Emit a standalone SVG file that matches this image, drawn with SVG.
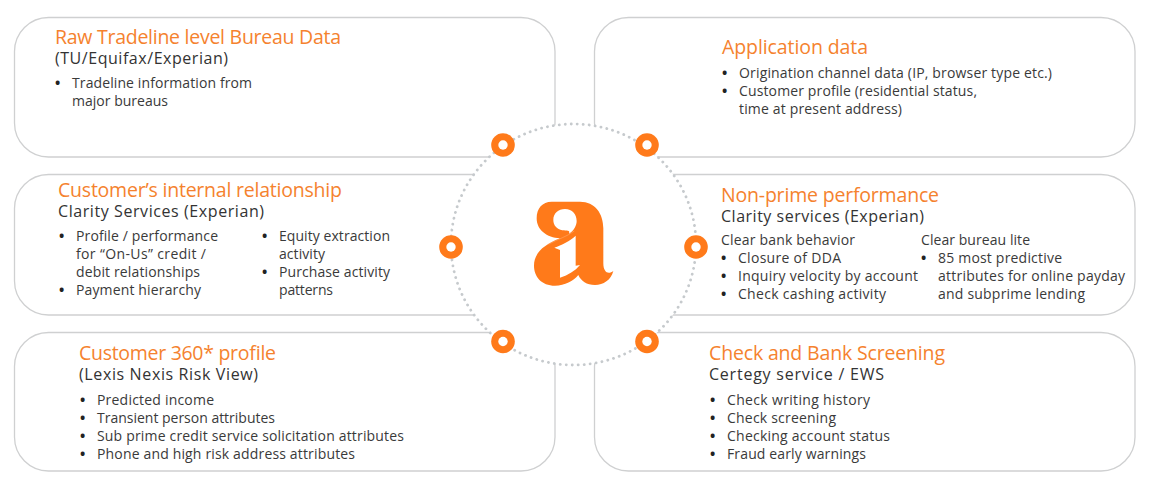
<svg xmlns="http://www.w3.org/2000/svg" width="1152" height="488" viewBox="0 0 1152 488">
<style>
text{font-family:"Open Sans","Noto Sans","Liberation Sans",sans-serif;fill:#3a3a3a;font-size:14px}
.box{fill:#fff;stroke:#cfd0d1;stroke-width:1.3}
text.t{fill:#f5822e;font-size:19.5px}
text.s{fill:#333;font-size:16px}
text.b{fill:#222;font-weight:700}
.dot{fill:#ff7a1a}
.hole{fill:#fff}
</style>
<rect width="1152" height="488" fill="#fff"/>
<g id="box-raw-tradeline">
<rect class="box" x="14.500" y="17.500" width="540.500" height="139.500" rx="34"/>
<text class="t" x="55" y="44" textLength="286">Raw Tradeline level Bureau Data</text>
<text class="s" x="55" y="64" textLength="173">(TU/Equifax/Experian)</text>
<text class="b" x="55" y="88">•</text>
<text x="72" y="88" textLength="180">Tradeline information from</text>
<text x="72" y="106" textLength="96">major bureaus</text>
</g>
<g id="box-application">
<rect class="box" x="594.500" y="17.500" width="540.500" height="139.500" rx="34"/>
<text class="t" x="722" y="54" textLength="146">Application data</text>
<text class="b" x="722" y="78">•</text>
<text x="739" y="78" textLength="313">Origination channel data (IP, browser type etc.)</text>
<text class="b" x="722" y="96">•</text>
<text x="739" y="96" textLength="238">Customer profile (residential status,</text>
<text x="739" y="114" textLength="163">time at present address)</text>
</g>
<g id="box-internal">
<rect class="box" x="14.500" y="174.500" width="520" height="140.500" rx="34"/>
<text class="t" x="58" y="197" textLength="284">Customer’s internal relationship</text>
<text class="s" x="58" y="216.500" textLength="206">Clarity Services (Experian)</text>
<text class="b" x="59" y="241">•</text>
<text x="76" y="241" textLength="142">Profile / performance</text>
<text x="76" y="259" textLength="130">for “On-Us” credit /</text>
<text x="76" y="277" textLength="124">debit relationships</text>
<text class="b" x="59" y="295">•</text>
<text x="76" y="295" textLength="125">Payment hierarchy</text>
<text class="b" x="262" y="241">•</text>
<text x="279" y="241" textLength="111">Equity extraction</text>
<text x="279" y="259" textLength="46">activity</text>
<text class="b" x="262" y="277">•</text>
<text x="279" y="277" textLength="111">Purchase activity</text>
<text x="279" y="295" textLength="54">patterns</text>
</g>
<g id="box-nonprime">
<rect class="box" x="615" y="174.500" width="520" height="140.500" rx="34"/>
<text class="t" x="721" y="202" textLength="218">Non-prime performance</text>
<text class="s" x="721" y="222" textLength="203">Clarity services (Experian)</text>
<text x="721" y="245" textLength="134">Clear bank behavior</text>
<text class="b" x="721" y="263">•</text>
<text x="738" y="263" textLength="103">Closure of DDA</text>
<text class="b" x="721" y="281">•</text>
<text x="738" y="281" textLength="180">Inquiry velocity by account</text>
<text class="b" x="721" y="299">•</text>
<text x="738" y="299" textLength="148">Check cashing activity</text>
<text x="921" y="245" textLength="109">Clear bureau lite</text>
<text class="b" x="921" y="263">•</text>
<text x="938" y="263" textLength="124">85 most predictive</text>
<text x="938" y="281" textLength="187">attributes for online payday</text>
<text x="938" y="299" textLength="147">and subprime lending</text>
</g>
<g id="box-customer-360">
<rect class="box" x="14.500" y="332.500" width="540.500" height="138.500" rx="34"/>
<text class="t" x="79" y="360" textLength="197">Customer 360* profile</text>
<text class="s" x="79" y="380" textLength="179">(Lexis Nexis Risk View)</text>
<text class="b" x="80" y="404.500">•</text>
<text x="97" y="404.500" textLength="117">Predicted income</text>
<text class="b" x="80" y="422.500">•</text>
<text x="97" y="422.500" textLength="178">Transient person attributes</text>
<text class="b" x="80" y="440.500">•</text>
<text x="97" y="440.500" textLength="307">Sub prime credit service solicitation attributes</text>
<text class="b" x="80" y="458.500">•</text>
<text x="97" y="458.500" textLength="258">Phone and high risk address attributes</text>
</g>
<g id="box-check-bank">
<rect class="box" x="594.500" y="332.500" width="540.500" height="138.500" rx="34"/>
<text class="t" x="709" y="360" textLength="236">Check and Bank Screening</text>
<text class="s" x="709" y="380" textLength="175">Certegy service / EWS</text>
<text class="b" x="710" y="404.500">•</text>
<text x="727" y="404.500" textLength="143">Check writing history</text>
<text class="b" x="710" y="422.500">•</text>
<text x="727" y="422.500" textLength="109">Check screening</text>
<text class="b" x="710" y="440.500">•</text>
<text x="727" y="440.500" textLength="163">Checking account status</text>
<text class="b" x="710" y="458.500">•</text>
<text x="727" y="458.500" textLength="139">Fraud early warnings</text>
</g>
<g id="connectors">
<ellipse cx="573.500" cy="244.500" rx="122.500" ry="120.500" fill="#fff" stroke="#c6cacd" stroke-width="2.800" stroke-linecap="round" stroke-dasharray="0.100 5.900"/>
</g>
<g id="hub-logo" transform="translate(525 195) scale(.3333)">
<path class="dot" d="M80 20H165C210 20 235 55 235 100V205C235 232 250 240 265 228C258 255 235 270 210 270C185 270 168 258 160 240C145 258 120 272 90 272C50 272 27 245 27 212C27 175 55 150 105 130C65 128 35 105 35 70C35 40 52 20 80 20Z"/>
<path class="hole" d="M85 75C85 55 100 42 120 42C142 42 155 58 155 78C155 92 146 108 132 116C136 105 126 108 112 106C96 102 85 92 85 75Z"/>
<path d="M148 108C125 125 100 132 70 148" fill="none" stroke="#ffb27a" stroke-width="1.500"/>
<path class="hole" d="M88 158C110 150 135 138 152 122V212L165 210C150 228 130 240 105 248V165Z"/>
</g>
<g id="hub-dot-1"><circle class="dot" cx="503" cy="145" r="11.800"/><circle class="hole" cx="503" cy="145" r="4.700"/></g>
<g id="hub-dot-2"><circle class="dot" cx="647" cy="145" r="11.800"/><circle class="hole" cx="647" cy="145" r="4.700"/></g>
<g id="hub-dot-3"><circle class="dot" cx="451" cy="247" r="11.800"/><circle class="hole" cx="451" cy="247" r="4.700"/></g>
<g id="hub-dot-4"><circle class="dot" cx="696" cy="247" r="11.800"/><circle class="hole" cx="696" cy="247" r="4.700"/></g>
<g id="hub-dot-5"><circle class="dot" cx="503" cy="341.500" r="11.800"/><circle class="hole" cx="503" cy="341.500" r="4.700"/></g>
<g id="hub-dot-6"><circle class="dot" cx="647" cy="341.500" r="11.800"/><circle class="hole" cx="647" cy="341.500" r="4.700"/></g>
</svg>
